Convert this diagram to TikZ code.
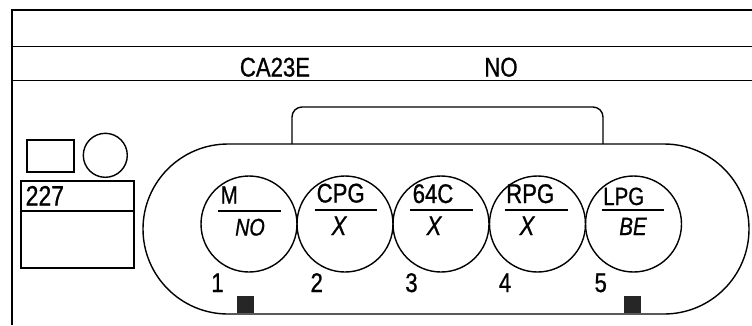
\documentclass[tikz,border=0pt]{standalone}
\usepackage{fontspec}
\setmainfont{Liberation Sans}[FakeStretch=0.82,FakeBold=0.8]
\usetikzlibrary{calc,shapes.misc}
\begin{document}
\begin{tikzpicture}[x=1pt,y=-1pt,line width=1.4pt,
  slot/.style={circle,draw,minimum size=96pt,inner sep=0pt},
  txt/.style={inner sep=0pt,font=\fontsize{#1}{#1}\selectfont},
  txt/.default=27,
  itx/.style={inner sep=0pt,font=\fontsize{#1}{#1}\selectfont\itshape},
  itx/.default=27,
  mark sq/.style={fill=black!85,minimum size=17pt,inner sep=0pt,anchor=south}]
\useasboundingbox (0,0) rectangle (752,325);
% frame
\coordinate (f0) at (12,325);
\coordinate (f1) at (12,10);
\coordinate (f2) at (752,10);
\coordinate (g1) at (12,46.7);
\coordinate (g2) at (752,46.7);
\coordinate (h1) at (12,80.7);
\coordinate (h2) at (752,80.7);
\draw (f0) -- (f1) -- (f2);
\draw (g1) -- (g2);
\draw (h1) -- (h2);
\node[txt=27,anchor=base] (ca) at (275,76.5) {CA23E};
\node[txt=27,anchor=base] (no) at (501,76.5) {NO};
% left small items
\draw (27,140) rectangle (74,172);
\node[circle,draw,minimum size=44pt,inner sep=0pt] (sc) at (105.3,155.3) {};
\draw (21,181) rectangle (134,268);
\draw (21,211) -- (134,211);
\node[txt=28,anchor=base west] (n227) at (25,205.5) {227};
% pill and top tab
\node[rounded rectangle,draw,minimum width=606pt,minimum height=170pt,inner sep=0pt] (pill) at (446,229) {};
\draw[rounded corners=10pt] (292,144) -- (292,107) -- (603,107) -- (603,144);
% slots
\node[slot] (c1) at (249,224) {};
\node[slot] (c2) at (345,224) {};
\node[slot] (c3) at (441,224) {};
\node[slot] (c4) at (537.5,224) {};
\node[slot] (c5) at (633.5,224) {};
\draw ($(c1)+(-31,-13)$) -- ($(c1)+(32,-13)$);
\draw ($(c2)+(-30,-14)$) -- ($(c2)+(32,-14)$);
\draw ($(c3)+(-31,-14)$) -- ($(c3)+(32,-14)$);
\draw ($(c4)+(-33,-14)$) -- ($(c4)+(30,-14)$);
\draw ($(c5)+(-32,-14)$) -- ($(c5)+(30,-14)$);
\node[txt=25,anchor=base west] (u1) at ($(c1)+(-29,-20.5)$) {M};
\node[txt,anchor=base west] (u2) at ($(c2)+(-29,-21.5)$) {CPG};
\node[txt,anchor=base west] (u3) at ($(c3)+(-29,-21)$) {64C};
\node[txt,anchor=base west] (u4) at ($(c4)+(-32,-21)$) {RPG};
\node[txt=25,anchor=base west] (u5) at ($(c5)+(-31,-19)$) {LPG};
\node[itx=24,anchor=base] (l1) at (250,235.5) {NO};
\node[itx,anchor=base] (l2) at (339,235) {X};
\node[itx,anchor=base] (l3) at (434,235) {X};
\node[itx,anchor=base] (l4) at (527,235) {X};
\node[itx=25,anchor=base] (l5) at (633,235) {BE};
% numbers
\node[txt=27,anchor=base] (k1) at (217.5,292) {1};
\node[txt=27,anchor=base] (k2) at (316.7,292) {2};
\node[txt=27,anchor=base] (k3) at (411.5,292) {3};
\node[txt=27,anchor=base] (k4) at (505,292) {4};
\node[txt=27,anchor=base] (k5) at (600.7,292) {5};
% markers
\node[mark sq] (s1) at (245.3,314) {};
\node[mark sq] (s2) at (632.8,314) {};
\end{tikzpicture}
\end{document}
